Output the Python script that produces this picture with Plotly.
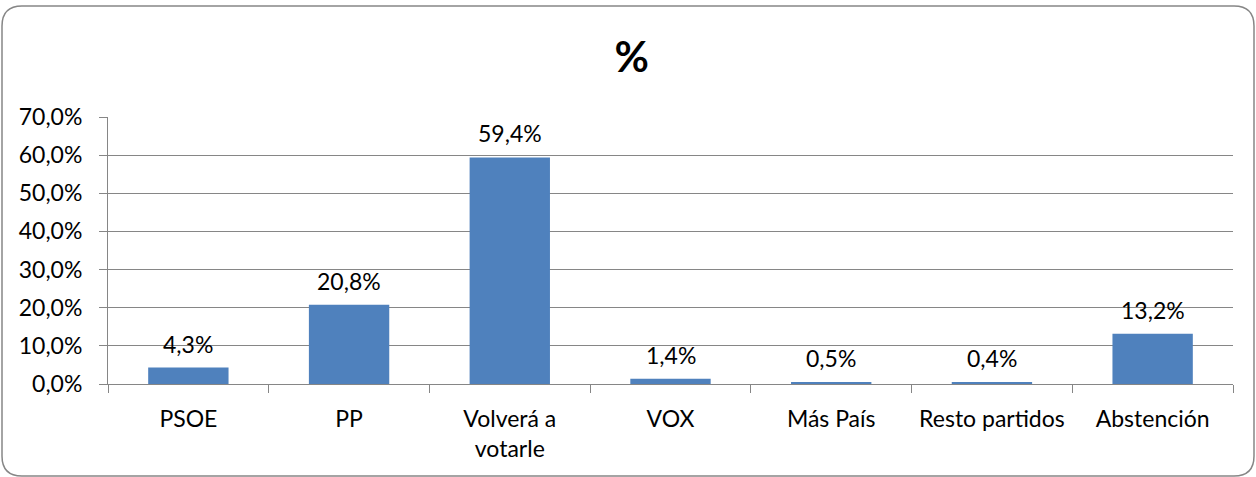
import plotly.graph_objects as go

categories = ["PSOE", "PP", "Volverá a<br>votarle", "VOX", "Más País", "Resto partidos", "Abstención"]
values = [4.3, 20.8, 59.4, 1.4, 0.5, 0.4, 13.2]
labels = ["4,3%", "20,8%", "59,4%", "1,4%", "0,5%", "0,4%", "13,2%"]
y_ticks = [0, 10, 20, 30, 40, 50, 60, 70]
y_tick_labels = ["0,0%", "10,0%", "20,0%", "30,0%", "40,0%", "50,0%", "60,0%", "70,0%"]

FONT = "Lato, 'Noto Sans', sans-serif"
GRID = "#868686"
FS = 23

fig = go.Figure(go.Bar(
    x=categories, y=values,
    marker=dict(color="#4F81BD", line=dict(width=0)),
    width=0.5, hoverinfo="x+y",
))

for c, v, t in zip(categories, values, labels):
    fig.add_annotation(x=c, y=v, text=t, showarrow=False, yanchor="middle",
                       yshift=24, font=dict(size=FS, family=FONT, color="#000000"))

fig.update_layout(
    width=1256, height=477,
    margin=dict(l=108, r=23, t=117, b=93),
    paper_bgcolor="white", plot_bgcolor="white",
    font=dict(family=FONT, size=FS, color="#000000"),
    title=dict(text="<b>%</b>", x=0.503, xanchor="center", y=0.88, yanchor="middle",
               font=dict(size=42, family=FONT, color="#000000")),
    showlegend=False,
    xaxis=dict(
        type="category", showline=True, linecolor=GRID, linewidth=1,
        ticks="outside", tickson="boundaries", ticklen=8, tickcolor=GRID,
        showgrid=False, tickfont=dict(size=FS, family=FONT, color="#000000"),
        ticklabelstandoff=14,
    ),
    yaxis=dict(
        range=[0, 70], tickvals=y_ticks, ticktext=y_tick_labels,
        showline=True, linecolor=GRID, linewidth=1,
        ticks="outside", ticklen=8, tickcolor=GRID,
        showgrid=True, gridcolor=GRID, gridwidth=1,
        zeroline=False, tickfont=dict(size=FS, family=FONT, color="#000000"),
        ticklabelstandoff=12,
    ),
    shapes=[dict(
        type="path", xref="paper", yref="paper",
        xsizemode="pixel", ysizemode="pixel", xanchor=0, yanchor=0,
        path="M -86 378 L 1126 378 Q 1146 378 1146 358 L 1146 -72 Q 1146 -92 1126 -92 "
             "L -86 -92 Q -106 -92 -106 -72 L -106 358 Q -106 378 -86 378 Z",
        line=dict(color="#868686", width=1.5), layer="below",
    )],
)

fig.write_html("out.html", config={"displayModeBar": False},
               post_script="document.body.style.margin='0';")
